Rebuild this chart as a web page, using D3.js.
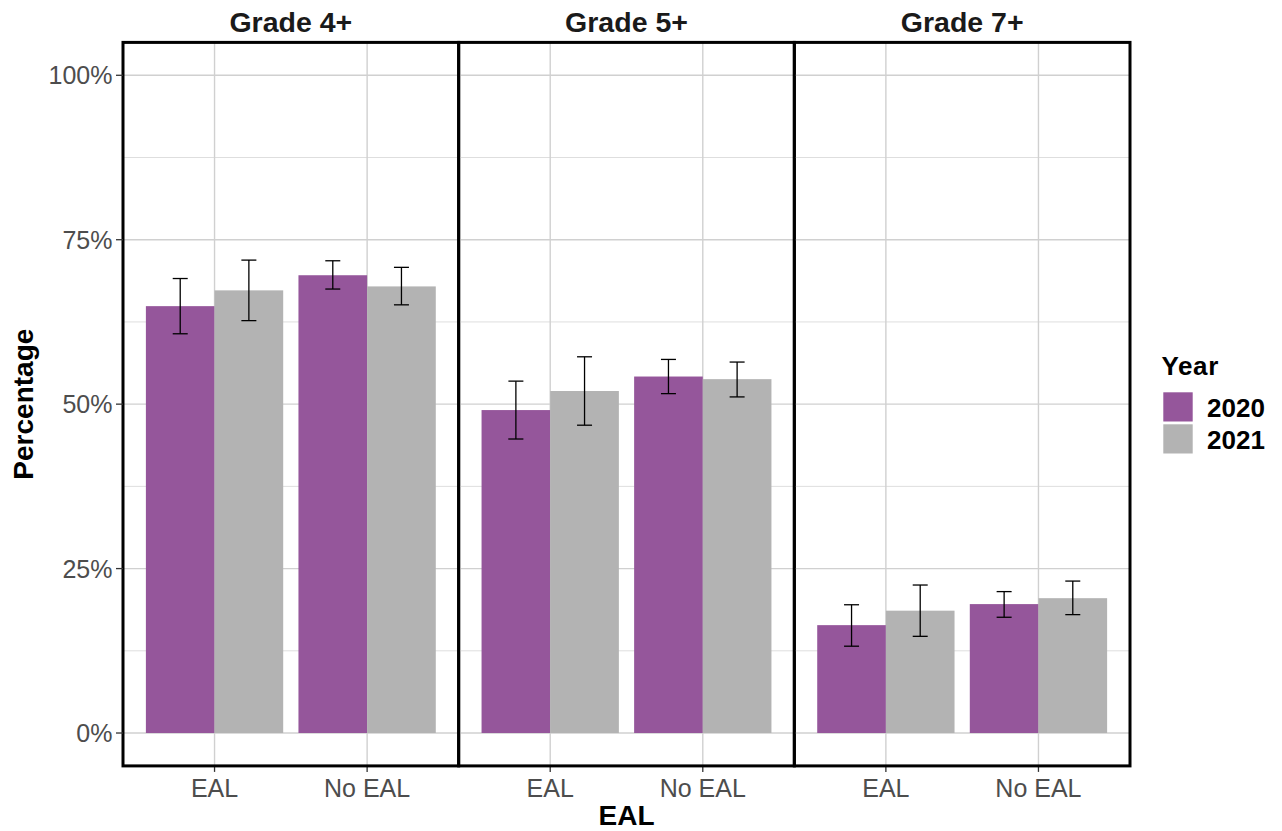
<!DOCTYPE html>
<html>
<head>
<meta charset="utf-8">
<script src="https://cdn.jsdelivr.net/npm/d3@7"></script>
<style>
  body { margin: 0; background: #fff; }
  svg { display: block; font-family: "Liberation Sans", Arial, sans-serif; }
</style>
</head>
<body>
<svg id="chart" width="1282" height="831"></svg>
<script>
// ---- Data (percent) ----
const grades = ["Grade 4+", "Grade 5+", "Grade 7+"];
const ealGroups = ["EAL", "No EAL"];
const years = ["2020", "2021"];
// order: Grade4 EAL, Grade4 No EAL, Grade5 EAL, Grade5 No EAL, Grade7 EAL, Grade7 No EAL
const value2020 = [64.9, 69.6, 49.1, 54.2, 16.4, 19.6];
const lower2020 = [60.7, 67.5, 44.7, 51.6, 13.2, 17.6];
const upper2020 = [69.1, 71.8, 53.5, 56.8, 19.5, 21.5];
const value2021 = [67.3, 67.9, 52.0, 53.8, 18.6, 20.5];
const lower2021 = [62.7, 65.1, 46.8, 51.1, 14.7, 18.0];
const upper2021 = [71.9, 70.8, 57.2, 56.4, 22.5, 23.1];
const yTicks = [0, 25, 50, 75, 100];
const yMinor = [12.5, 37.5, 62.5, 87.5];

const colors = { "2020": "#95569b", "2021": "#b3b3b3" };

const rows = [];
grades.forEach((g, gi) => {
  ealGroups.forEach((e, ei) => {
    const i = gi * 2 + ei;
    rows.push({ grade: g, eal: e, year: "2020", v: value2020[i], lo: lower2020[i], hi: upper2020[i] });
    rows.push({ grade: g, eal: e, year: "2021", v: value2021[i], lo: lower2021[i], hi: upper2021[i] });
  });
});

const svg = d3.select("#chart");
const pLeft = 123, pRight = 1130, pTop = 42.4, pBottom = 765.9;
const panelW = (pRight - pLeft) / grades.length;

const panelScale = d3.scaleBand().domain(grades).range([pLeft, pRight]).padding(0);
const y = d3.scaleLinear().domain([-5, 105]).range([pBottom, pTop]);

grades.forEach((g, gi) => {
  const px = panelScale(g);
  // x scale mimics ggplot discrete expansion (0.6 units each side)
  const xCat = d3.scalePoint().domain(ealGroups).range([px + panelW * 0.6 / 2.2, px + panelW * 1.6 / 2.2]);
  const unit = panelW / 2.2;
  const xYear = d3.scaleBand().domain(years).range([-0.45 * unit, 0.45 * unit]).padding(0);

  const p = svg.append("g");
  // grid
  p.selectAll("line.minor").data(yMinor).join("line")
    .attr("x1", px).attr("x2", px + panelW)
    .attr("y1", d => y(d)).attr("y2", d => y(d))
    .attr("stroke", "#dedede").attr("stroke-width", 1);
  p.selectAll("line.major").data(yTicks).join("line")
    .attr("x1", px).attr("x2", px + panelW)
    .attr("y1", d => y(d)).attr("y2", d => y(d))
    .attr("stroke", "#d0d0d0").attr("stroke-width", 1.4);
  p.selectAll("line.vgrid").data(ealGroups).join("line")
    .attr("x1", d => xCat(d)).attr("x2", d => xCat(d))
    .attr("y1", pTop).attr("y2", pBottom)
    .attr("stroke", "#d0d0d0").attr("stroke-width", 1.4);

  const data = rows.filter(r => r.grade === g);
  // bars
  p.selectAll("rect.bar").data(data).join("rect")
    .attr("x", d => xCat(d.eal) + xYear(d.year))
    .attr("width", xYear.bandwidth())
    .attr("y", d => y(d.v))
    .attr("height", d => y(0) - y(d.v))
    .attr("fill", d => colors[d.year]);
  // error bars
  const ew = 7.5;
  const cx = d => xCat(d.eal) + xYear(d.year) + xYear.bandwidth() / 2;
  const eb = p.selectAll("g.err").data(data).join("g").attr("stroke", "#000").attr("stroke-width", 1.3);
  eb.append("line").attr("x1", cx).attr("x2", cx).attr("y1", d => y(d.lo)).attr("y2", d => y(d.hi));
  eb.append("line").attr("x1", d => cx(d) - ew).attr("x2", d => cx(d) + ew).attr("y1", d => y(d.lo)).attr("y2", d => y(d.lo));
  eb.append("line").attr("x1", d => cx(d) - ew).attr("x2", d => cx(d) + ew).attr("y1", d => y(d.hi)).attr("y2", d => y(d.hi));

  // x axis ticks and labels
  p.selectAll("line.xtick").data(ealGroups).join("line")
    .attr("x1", d => xCat(d)).attr("x2", d => xCat(d))
    .attr("y1", pBottom).attr("y2", pBottom + 6)
    .attr("stroke", "#333").attr("stroke-width", 1.3);
  p.selectAll("text.xlab").data(ealGroups).join("text")
    .attr("x", d => xCat(d)).attr("y", 796.5)
    .attr("text-anchor", "middle").attr("font-size", 25).attr("fill", "#4d4d4d")
    .text(d => d);

  // strip label
  p.append("text").attr("x", px + panelW / 2).attr("y", 32)
    .attr("text-anchor", "middle").attr("font-size", 28.5).attr("font-weight", "bold").attr("fill", "#1a1a1a")
    .text(g);

  // border
  p.append("rect").attr("x", px).attr("y", pTop).attr("width", panelW).attr("height", pBottom - pTop)
    .attr("fill", "none").attr("stroke", "#000").attr("stroke-width", 3);
});

// y axis
const yAxis = svg.append("g");
yAxis.selectAll("line").data(yTicks).join("line")
  .attr("x1", pLeft - 7).attr("x2", pLeft).attr("y1", d => y(d)).attr("y2", d => y(d))
  .attr("stroke", "#333").attr("stroke-width", 1.3);
yAxis.selectAll("text").data(yTicks).join("text")
  .attr("x", 112.5).attr("y", d => y(d)).attr("dy", "0.36em")
  .attr("text-anchor", "end").attr("font-size", 25).attr("fill", "#4d4d4d")
  .text(d => d + "%");

// axis titles
svg.append("text").attr("x", (pLeft + pRight) / 2).attr("y", 825)
  .attr("text-anchor", "middle").attr("font-size", 28).attr("font-weight", "bold").attr("fill", "#000")
  .text("EAL");
svg.append("text").attr("transform", `translate(33.3,${(pTop + pBottom) / 2}) rotate(-90)`)
  .attr("text-anchor", "middle").attr("font-size", 28).attr("font-weight", "bold").attr("fill", "#000")
  .text("Percentage");

// legend
const lg = svg.append("g");
lg.append("text").attr("x", 1161.5).attr("y", 375).attr("font-size", 26).attr("font-weight", "bold")
  .attr("letter-spacing", 0.6).attr("fill", "#000").text("Year");
const ly = d3.scaleBand().domain(years).range([391, 455]).padding(0);
lg.selectAll("rect").data(years).join("rect")
  .attr("x", 1163.3).attr("y", d => ly(d) + 1.3).attr("width", 29.4).attr("height", 29.2)
  .attr("fill", d => colors[d]);
lg.selectAll("text.item").data(years).join("text")
  .attr("x", 1207).attr("y", d => ly(d) + 25.5).attr("font-size", 26).attr("font-weight", "bold").attr("fill", "#000")
  .text(d => d);
</script>
</body>
</html>
